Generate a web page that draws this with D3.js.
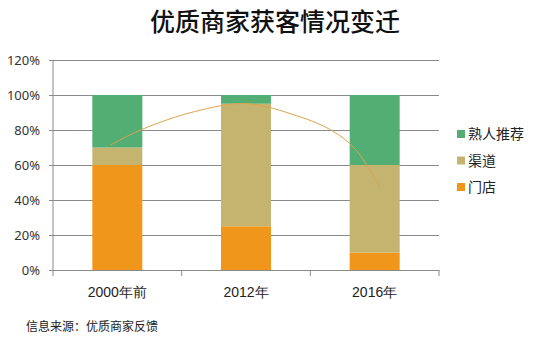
<!DOCTYPE html>
<html>
<head>
<meta charset="utf-8">
<script src="https://cdn.jsdelivr.net/npm/d3@7"></script>
<style>
  html, body { margin: 0; padding: 0; background: #fff; }
  svg { display: block; font-family: "Noto Sans CJK SC", "Noto Sans", sans-serif; }
</style>
</head>
<body>
<svg id="chart" width="540" height="337"></svg>
<script>
// Categories and stacked shares (%)
const categories = ["2000年前", "2012年", "2016年"];
const seriesNames = ["门店", "渠道", "熟人推荐"];
const storeValues = [60, 25, 10];
const channelValues = [10, 70, 50];
const referralValues = [30, 5, 40];
const yTicks = [0, 20, 40, 60, 80, 100, 120];

// Trend curve control points: category position (0 = first category centre) and share (%)
const trendPos = [-0.055, 0.2, 0.6, 1.0, 1.4, 1.66, 1.85, 2.04];
const trendPct = [71.4, 80.6, 90.5, 95.1, 88, 80, 69, 47.4];

const colors = { "门店": "#F0961A", "渠道": "#C4B470", "熟人推荐": "#52AE73" };

const svg = d3.select("#chart");
const plot = { left: 53, right: 439, top: 60, bottom: 270 };

const x = d3.scaleBand().domain(categories).range([plot.left, plot.right]).paddingInner(0).paddingOuter(0);
const y = d3.scaleLinear().domain([0, 120]).range([plot.bottom, plot.top]);
const barW = 50;

// Continuous x for the trend curve, aligned with band centres
const xPos = d3.scaleLinear().domain([0, 1]).range([
  x(categories[0]) + x.bandwidth() / 2,
  x(categories[1]) + x.bandwidth() / 2
]);

// Title
svg.append("text")
  .attr("x", 275).attr("y", 31)
  .attr("text-anchor", "middle")
  .attr("font-size", 25)
  .attr("font-weight", 500)
  .attr("fill", "#111")
  .text("优质商家获客情况变迁");

// Gridlines + y labels
const yAxis = d3.axisLeft(y).tickValues(yTicks).tickFormat(d => d + "%")
  .tickSize(-(plot.right - plot.left + 4)).tickPadding(9);
const gy = svg.append("g").attr("transform", `translate(${plot.left - 4},0)`).call(yAxis);
gy.select(".domain").remove();
gy.selectAll(".tick line").attr("stroke", "#8a8a8a").attr("stroke-width", 1);
gy.selectAll(".tick text").attr("font-size", 13).attr("fill", "#333")
  .attr("font-family", "Noto Sans, sans-serif");

// vertical axis line
svg.append("line")
  .attr("x1", plot.left).attr("x2", plot.left)
  .attr("y1", y(120)).attr("y2", y(0))
  .attr("stroke", "#8a8a8a");

// Stack data
const rows = categories.map((c, i) => ({
  cat: c, "门店": storeValues[i], "渠道": channelValues[i], "熟人推荐": referralValues[i]
}));
const stacked = d3.stack().keys(seriesNames)(rows);

svg.append("g").selectAll("g").data(stacked).join("g")
  .attr("fill", d => colors[d.key])
  .selectAll("rect").data(d => d).join("rect")
  .attr("x", d => x(d.data.cat) + (x.bandwidth() - barW) / 2)
  .attr("width", barW)
  .attr("y", d => y(d[1]))
  .attr("height", d => y(d[0]) - y(d[1]));

// x axis
const xAxis = d3.axisBottom(x).tickSize(0).tickPadding(17);
const gx = svg.append("g").attr("transform", `translate(0,${plot.bottom})`).call(xAxis);
gx.select(".domain").attr("stroke", "#8a8a8a");
gx.selectAll(".tick text").attr("font-size", 14).attr("fill", "#222");
// category boundary ticks
const bounds = categories.map(c => x(c)).concat([plot.right]);
svg.append("g").selectAll("line").data(bounds).join("line")
  .attr("x1", d => d).attr("x2", d => d)
  .attr("y1", plot.bottom).attr("y2", plot.bottom + 6)
  .attr("stroke", "#8a8a8a");

// Trend curve
const trend = trendPos.map((p, i) => [xPos(p), y(trendPct[i])]);
svg.append("path")
  .attr("d", d3.line().curve(d3.curveCatmullRom.alpha(0.5))(trend))
  .attr("fill", "none")
  .attr("stroke", "#DDA350")
  .attr("stroke-width", 1);

// Legend (top series first)
const legendOrder = ["熟人推荐", "渠道", "门店"];
const lg = svg.append("g").selectAll("g").data(legendOrder).join("g")
  .attr("transform", (d, i) => `translate(457,${130 + i * 26.5})`);
lg.append("rect").attr("width", 8).attr("height", 8).attr("fill", d => colors[d]);
lg.append("text").attr("x", 11).attr("y", 9).attr("font-size", 14).attr("fill", "#222").text(d => d);

// Source note
svg.append("text")
  .attr("x", 26).attr("y", 331)
  .attr("font-size", 12)
  .attr("fill", "#222")
  .text("信息来源：优质商家反馈");
</script>
</body>
</html>
